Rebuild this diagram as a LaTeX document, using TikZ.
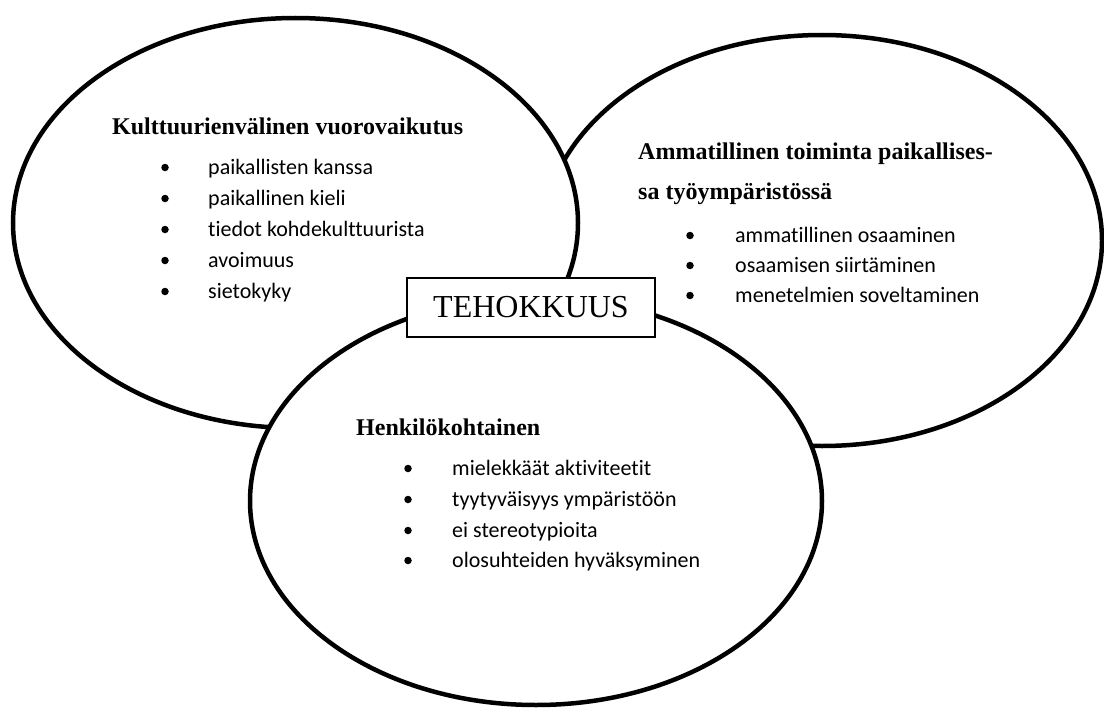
\documentclass[tikz,border=0pt]{standalone}
\usepackage{fontspec}
\setmainfont{Liberation Serif}
\newfontfamily\calibrifont[Ligatures=NoCommon]{Carlito}
\begin{document}
\begin{tikzpicture}[x=1pt,y=1pt,
  blob/.style={draw=black, line width=4.5pt, fill=white},
  head/.style={anchor=base west, inner sep=0pt, font=\fontsize{24}{28}\selectfont\bfseries},
  item/.style={anchor=base west, inner sep=0pt, font=\fontsize{22}{26}\selectfont\calibrifont},
  dotmark/.style={circle, fill=black, inner sep=0pt, minimum size=7.5pt},
  titlebox/.style={draw=black, line width=1.5pt, fill=white, minimum width=248pt, minimum height=59pt, inner sep=0pt, font=\fontsize{32}{36}\selectfont}]
\useasboundingbox (0,0) rectangle (1104,-709);
\fill[white] (0,0) rectangle (1104,-709);
% ellipses
\draw[blob] (822,-240.5) ellipse [x radius=280, y radius=205.5];
\draw[blob] (295.5,-223) ellipse [x radius=282.5, y radius=205];
\draw[blob] (536,-501) ellipse [x radius=286, y radius=204];
% left
\node[head] (lh) at (112,-134) {Kulttuurienvälinen vuorovaikutus};
\node[dotmark] (ld1) at (165,-167.5) {};
\node[item] (l1) at (208,-174) {paikallisten kanssa};
\node[dotmark] (ld2) at (165,-198.5) {};
\node[item] (l2) at (208,-205) {paikallinen kieli};
\node[dotmark] (ld3) at (165,-229.5) {};
\node[item] (l3) at (208,-236) {tiedot kohdekulttuurista};
\node[dotmark] (ld4) at (165,-260.5) {};
\node[item] (l4) at (208,-267) {avoimuus};
\node[dotmark] (ld5) at (165,-291.5) {};
\node[item] (l5) at (208,-298) {sietokyky};
% right
\node[head] (rh1) at (638,-159) {Ammatillinen toiminta paikallises-};
\node[head] (rh2) at (638,-199) {sa työympäristössä};
\node[dotmark] (rd1) at (690,-235.5) {};
\node[item] (r1) at (735,-242) {ammatillinen osaaminen};
\node[dotmark] (rd2) at (690,-265.5) {};
\node[item] (r2) at (735,-272) {osaamisen siirtäminen};
\node[dotmark] (rd3) at (690,-295.5) {};
\node[item] (r3) at (735,-302) {menetelmien soveltaminen};
% bottom
\node[head] (bh) at (356,-435) {Henkilökohtainen};
\node[dotmark] (bd1) at (408,-468.5) {};
\node[item] (b1) at (452,-475) {mielekkäät aktiviteetit};
\node[dotmark] (bd2) at (408,-499.5) {};
\node[item] (b2) at (452,-506) {tyytyväisyys ympäristöön};
\node[dotmark] (bd3) at (408,-530.5) {};
\node[item] (b3) at (452,-537) {ei stereotypioita};
\node[dotmark] (bd4) at (408,-560.5) {};
\node[item] (b4) at (452,-567) {olosuhteiden hyväksyminen};
% title
\node[titlebox] (t) at (531,-307.5) {TEHOKKUUS};
\end{tikzpicture}
\end{document}
